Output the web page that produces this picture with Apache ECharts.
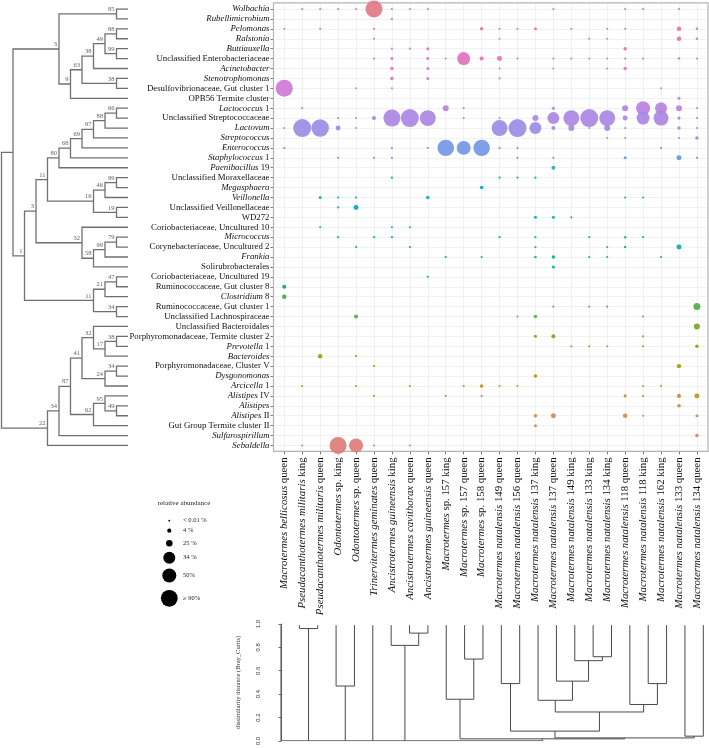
<!DOCTYPE html>
<html><head><meta charset="utf-8">
<script src="https://cdn.jsdelivr.net/npm/echarts@6/dist/echarts.min.js"></script>
<style>html,body{margin:0;padding:0;background:#fff}#c{width:709px;height:748px}</style>
</head><body><div id="c"></div>
<script>
// ---------------- data ----------------
const rowNames = ['Wolbachia','Rubellimicrobium','Pelomonas','Ralstonia','Buttiauxella','Unclassified Enterobacteriaceae','Acinetobacter','Stenotrophomonas','Desulfovibrionaceae, Gut cluster 1','OPB56 Termite cluster','Lactococcus 1','Unclassified Streptococcaceae','Lactovum','Streptococcus','Enterococcus','Staphylococcus 1','Paenibacillus 19','Unclassified Moraxellaceae','Megasphaera','Veillonella','Unclassified Veillonellaceae','WD272','Coriobacteriaceae, Uncultured 10','Micrococcus','Corynebacteriaceae, Uncultured 2','Frankia','Solirubrobacterales','Coriobacteriaceae, Uncultured 19','Ruminococcaceae, Gut cluster 8','Clostridium 8','Ruminococcaceae, Gut cluster 1','Unclassified Lachnospiraceae','Unclassified Bacteroidales','Porphyromonadaceae, Termite cluster 2','Prevotella 1','Bacteroides','Porphyromonadaceae, Cluster V','Dysgonomonas','Arcicella 1','Alistipes IV','Alistipes','Alistipes II','Gut Group Termite cluster II','Sulfurospirillum','Sebaldella'];
const italicGenera = ['Wolbachia','Rubellimicrobium','Pelomonas','Ralstonia','Buttiauxella','Acinetobacter','Stenotrophomonas','Lactococcus','Lactovum','Streptococcus','Enterococcus','Staphylococcus','Paenibacillus','Megasphaera','Veillonella','Micrococcus','Frankia','Clostridium','Prevotella','Bacteroides','Dysgonomonas','Arcicella','Alistipes','Sulfurospirillum','Sebaldella'];
const colNames = ['Macrotermes bellicosus queen','Pseudacanthotermes militaris king','Pseudacanthotermes militaris queen','Odontotermes sp. king','Odontotermes sp. queen','Trinervitermes geminates queen','Ancistrotermes guineensis king','Ancistrotermes cavithorax queen','Ancistrotermes guineensis queen','Macrotermes sp. 157 king','Macrotermes sp. 157 queen','Macrotermes sp. 158 queen','Macrotermes natalensis 149 queen','Macrotermes natalensis 156 queen','Macrotermes natalensis 137 king','Macrotermes natalensis 137 queen','Macrotermes natalensis 149 king','Macrotermes natalensis 133 king','Macrotermes natalensis 134 king','Macrotermes natalensis 118 queen','Macrotermes natalensis 118 king','Macrotermes natalensis 162 king','Macrotermes natalensis 133 queen','Macrotermes natalensis 134 queen'];

// relative abundance (%), per row: [column (1-based), value]; t = trace (< 0.01 %)
const t = 0.01;
const abundance = [
  [[2,t],[3,t],[4,t],[5,t],[6,88],[7,t],[8,t],[9,t],[16,t],[20,t],[21,t],[23,t]],
  [[7,t]],
  [[1,t],[3,t],[6,t],[12,0.9],[13,t],[14,t],[15,0.4],[17,t],[19,t],[20,t],[23,2.4],[24,0.1]],
  [[6,t],[13,t],[18,t],[19,t],[23,2.4],[24,0.1]],
  [[7,t],[8,t],[9,0.4],[20,0.9]],
  [[6,t],[7,0.4],[9,0.4],[10,t],[11,47],[12,1.6],[13,3.5],[14,t],[16,t],[17,t],[18,t],[19,t],[20,t],[21,t],[23,0.1],[24,t]],
  [[7,0.9],[9,0.4],[13,t],[16,t],[19,t],[20,0.9]],
  [[7,0.9],[9,0.4],[13,t]],
  [[1,88],[5,t],[7,t],[22,t]],
  [[23,0.4]],
  [[2,t],[10,6.3],[11,t],[16,0.4],[20,6.3],[21,56],[22,39],[23,6.3],[24,t]],
  [[4,t],[5,t],[6,1.6],[7,88],[8,100],[9,76],[11,t],[13,t],[15,6.3],[16,39],[17,76],[18,100],[19,76],[20,3.5],[21,47],[22,66],[23,0.4],[24,t]],
  [[1,t],[2,100],[3,95],[4,3.5],[5,t],[13,76],[14,100],[15,39],[16,1.6],[17,6.3],[18,t],[19,6.3],[20,t],[23,0.9],[24,t]],
  [[19,t],[20,t],[23,t],[24,0.9]],
  [[1,t],[7,t],[9,t],[10,82],[11,56],[12,82],[13,t],[14,t],[22,t]],
  [[4,t],[6,t],[7,t],[14,t],[16,t],[20,0.4],[23,3.5],[24,t]],
  [[16,1.6]],
  [[7,t],[13,t],[14,t],[15,t]],
  [[12,0.9]],
  [[3,0.4],[4,t],[5,t],[9,0.9],[20,t],[21,t]],
  [[4,t],[5,3.5]],
  [[15,0.4],[16,0.4],[17,t]],
  [[3,t],[7,t],[8,t]],
  [[4,t],[6,t],[7,t],[13,t],[15,t],[18,t],[20,0.1],[21,t]],
  [[5,t],[8,t],[15,t],[19,t],[20,0.1],[23,3.5]],
  [[10,t],[12,t],[15,0.1],[16,0.9],[18,t],[19,t],[22,t]],
  [[16,0.4]],
  [[9,t]],
  [[1,1.6]],
  [[1,2.4]],
  [[16,t],[18,t],[19,t],[24,9.8]],
  [[5,1.6],[14,t],[15,0.9],[21,t]],
  [[24,6.3]],
  [[15,0.4],[16,1.6],[21,t]],
  [[17,t],[18,t],[19,t],[21,t],[24,0.9]],
  [[3,2.4],[5,t]],
  [[6,t],[23,2.4]],
  [[15,0.9]],
  [[2,t],[5,t],[8,t],[11,t],[12,0.9],[13,t],[14,t],[21,t],[22,t]],
  [[6,t],[10,t],[12,t],[20,0.4],[21,t],[23,1.6],[24,3.5]],
  [[23,0.9]],
  [[15,0.9],[16,3.5],[20,2.4],[21,t],[24,0.4]],
  [[15,0.4]],
  [[24,0.9]],
  [[2,t],[4,88],[5,56],[6,t],[8,t]]
];

// taxa tree: [support label, child, child]; leaves = row index
const rowTree = ['',
  ['',
    ['3', ['85', 0, 1], ['9', ['63', ['38', ['49', ['88', 2, 3], ['99', 4, 5]], 6], ['38', 7, 8]], 9]],
    ['1',
      ['3',
        ['11',
          ['80', ['68', ['69', ['97', ['88', ['66', 10, 11], 12], 13], 14], 15], 16],
          ['16', ['46', ['99', 17, 18], 19], ['19', 20, 21]]
        ],
        ['32', 22, ['58', ['99', ['79', 23, 24], 25], 26]]
      ],
      ['11', ['21', ['47', 27, 28], 29], ['34', 30, 31]]
    ]
  ],
  ['22', ['34', ['87', ['41', ['32', 32, ['17', ['38', 33, 34], 35]], ['24', ['34', 36, 37], 38]], ['62', ['95', 39, ['49', 40, 41]], 42]], 43], 44]
];

// sample tree: [merge height, children...]; leaves = column index
const colLeafHeight = 0.99;
const colTree = [0.0,
  0,
  [0.961, 1, 2],
  [0.469, 3, 4],
  5,
  [0.817, 6, [0.922, 7, 8]],
  [0.017,
    [0.356, 9, [0.70, 10, 11]],
    [0.025,
      [0.083, [0.49, 12, 13],
        [0.247, [0.347, 14, [0.511, 15, [0.686, 16, [0.72, 17, 18]]]], [0.311, 19, [0.49, 20, 21]]]],
      [0.04, 22, 23]
    ]
  ]
];
const distAxisName = 'dissimilarity distance (Bray_Curtis)';
const legendTitle = 'relative abundance';
const legendLabels = ['< 0.01 %', '4 %', '25 %', '34 %', '50%', '\u2265 90%'];

// ---------------- helpers ----------------
function hcl(h, c, l) {
  const hr = h * Math.PI / 180, u = c * Math.cos(hr), v = c * Math.sin(hr);
  const Xn = 95.047, Yn = 100, Zn = 108.883;
  const den = Xn + 15 * Yn + 3 * Zn, un = 4 * Xn / den, vn = 9 * Yn / den;
  const Y = Yn * Math.pow((l + 16) / 116, 3);
  const up = u / (13 * l) + un, vp = v / (13 * l) + vn;
  const X = 9 * Y * up / (4 * vp), Z = -X / 3 - 5 * Y + 3 * Y / vp;
  const x = X / 100, y = Y / 100, z = Z / 100;
  const r = 3.240479 * x - 1.537150 * y - 0.498535 * z;
  const g = -0.969256 * x + 1.875992 * y + 0.041556 * z;
  const b = 0.055648 * x - 0.204043 * y + 1.057311 * z;
  const gm = q => { q = q <= 0.0031308 ? 12.92 * q : 1.055 * Math.pow(q, 1 / 2.4) - 0.055; return Math.round(255 * Math.max(0, Math.min(1, q))); };
  return 'rgb(' + gm(r) + ',' + gm(g) + ',' + gm(b) + ')';
}
const nRows = rowNames.length;
const rowColors = rowNames.map((_, r) => hcl(15 + (nRows - 1 - r) * (352 / (nRows - 1)), 72, 63));

const bubbleData = [];
abundance.forEach((row, r) => row.forEach(([c, v]) => bubbleData.push([c - 1, r, v])));
const sizeOf = v => 2 + 16 * Math.sqrt(v / 100);

// row tree layout (x = node level, y = row)
const rowSegs = [], rowLabels = [];
function layRow(node) {
  if (typeof node === 'number') return {x: 0, y: node};
  const kids = node.slice(1).map(layRow);
  const a = kids[0], b = kids[kids.length - 1];
  const d = 1 + Math.max(...kids.map(k => k.x));
  const y = (a.y + b.y) / 2;
  rowSegs.push([[a.x, a.y], [d, a.y], [d, b.y], [b.x, b.y]]);
  if (node[0]) rowLabels.push([d, y, node[0]]);
  return {x: d, y: y};
}
layRow(rowTree);

// column tree layout (x = column, y = height)
const colSegs = [];
function layCol(node) {
  if (typeof node === 'number') return {x: node, h: colLeafHeight};
  const h = node[0];
  const kids = node.slice(1).map(layCol);
  const a = kids[0], b = kids[kids.length - 1];
  colSegs.push([[a.x, a.h], [a.x, h], [b.x, h], [b.x, b.h]]);
  for (let i = 1; i < kids.length - 1; i++) colSegs.push([[kids[i].x, kids[i].h], [kids[i].x, h]]);
  return {x: (a.x + b.x) / 2, h: h};
}
layCol(colTree);

const SERIF = 'Liberation Serif';
function richRow(name) {
  const sp = name.indexOf(' ');
  const first = sp < 0 ? name : name.slice(0, sp);
  if (italicGenera.indexOf(first) >= 0) return sp < 0 ? '{i|' + first + '}' : '{i|' + first + '}{n|' + name.slice(sp) + '}';
  return '{n|' + name + '}';
}
function richCol(name) {
  const w = name.split(' ');
  let k = 0;
  while (k < w.length && !/^(sp\.|king|queen|\d+)$/.test(w[k])) k++;
  return '{i|' + w.slice(0, k).join(' ') + '}{n| ' + w.slice(k).join(' ') + '}';
}

// legend graphics
const legY = [520.7, 530.7, 543.3, 557.7, 575.5, 598.3];
const legR = [0.9, 2.1, 3.3, 6, 7, 8.4];
const graphics = [
  {type: 'rect', z: 1, shape: {x: 273.5, y: 2.8, width: 434.5, height: 448.6}, style: {fill: 'none', stroke: '#b3b3b3', lineWidth: 1.2}},
  {type: 'text', x: 184, y: 503, style: {text: legendTitle, font: '7px "Liberation Serif"', fill: '#222', textAlign: 'center', textVerticalAlign: 'middle'}}
];
legendLabels.forEach((lab, i) => {
  graphics.push({type: 'circle', shape: {cx: 169.3, cy: legY[i], r: legR[i]}, style: {fill: '#000'}});
  graphics.push({type: 'text', x: 183, y: legY[i], style: {text: lab, font: '6.5px "Liberation Serif"', fill: '#222', textAlign: 'left', textVerticalAlign: 'middle'}});
});

const chart = echarts.init(document.getElementById('c'));
chart.setOption({
  animation: false,
  backgroundColor: '#fff',
  graphic: graphics,
  grid: [
    {left: 275.3, top: 4.04, width: 430.6, height: 446.4},
    {left: 1.5, top: 9, width: 126.5, height: 436.5},
    {left: 281, top: 624, width: 422.3, height: 120}
  ],
  xAxis: [
    {gridIndex: 0, type: 'category', data: colNames, boundaryGap: true, position: 'bottom', offset: 1,
     axisLine: {show: false},
     axisTick: {show: true, alignWithLabel: true, interval: 0, length: 3, lineStyle: {color: '#555', width: 0.8}},
     splitLine: {show: true, alignWithLabel: true, interval: 0, lineStyle: {color: '#ebebeb', width: 0.7}},
     axisLabel: {interval: 0, rotate: 90, margin: 6, formatter: v => richCol(v),
       rich: {i: {fontFamily: SERIF, fontStyle: 'italic', fontSize: 10.8, color: '#111'}, n: {fontFamily: SERIF, fontSize: 10.8, color: '#111'}}}},
    {gridIndex: 1, type: 'value', min: 0, max: 11, inverse: true, show: false},
    {gridIndex: 2, type: 'value', min: 0, max: 23, show: false}
  ],
  yAxis: [
    {gridIndex: 0, type: 'category', data: rowNames, inverse: true, boundaryGap: true, offset: 1.8,
     axisLine: {show: false},
     axisTick: {show: true, alignWithLabel: true, interval: 0, length: 3, lineStyle: {color: '#555', width: 0.8}},
     splitLine: {show: true, alignWithLabel: true, interval: 0, lineStyle: {color: '#ebebeb', width: 0.7}},
     axisLabel: {interval: 0, margin: 4, formatter: v => richRow(v),
       rich: {i: {fontFamily: SERIF, fontStyle: 'italic', fontSize: 8.8, color: '#111'}, n: {fontFamily: SERIF, fontSize: 8.8, color: '#111'}}}},
    {gridIndex: 1, type: 'value', min: 0, max: 44, inverse: true, show: false},
    {gridIndex: 2, type: 'value', min: 0, max: 1, interval: 0.2, offset: 17,
     axisLine: {show: true, lineStyle: {color: '#444', width: 0.8}},
     axisTick: {show: true, length: 2.5, lineStyle: {color: '#444', width: 0.8}},
     splitLine: {show: false},
     axisLabel: {rotate: 90, margin: 3, fontSize: 6, fontFamily: 'Liberation Sans', color: '#333', formatter: v => v.toFixed(1)},
     name: distAxisName, nameLocation: 'middle', nameGap: 22, nameRotate: 90,
     nameTextStyle: {fontSize: 6.5, fontFamily: SERIF, color: '#333'}}
  ],
  series: [
    {type: 'scatter', xAxisIndex: 0, yAxisIndex: 0, clip: false, data: bubbleData,
     symbolSize: v => sizeOf(v[2]),
     itemStyle: {opacity: 0.92, color: p => rowColors[p.data[1]]}, z: 3},
    {type: 'lines', coordinateSystem: 'cartesian2d', xAxisIndex: 1, yAxisIndex: 1, polyline: true, silent: true,
     data: rowSegs.map(c => ({coords: c})), lineStyle: {color: '#707070', width: 1.3, opacity: 1}},
    {type: 'scatter', xAxisIndex: 1, yAxisIndex: 1, clip: false, silent: true, symbolSize: 1,
     itemStyle: {color: 'rgba(0,0,0,0)'}, data: rowLabels, z: 5,
     label: {show: true, position: 'left', distance: 1.5, offset: [0, -4.5], formatter: p => p.data[2],
       fontSize: 6.5, fontFamily: SERIF, color: '#333'}},
    {type: 'lines', coordinateSystem: 'cartesian2d', xAxisIndex: 2, yAxisIndex: 2, polyline: true, silent: true,
     data: colSegs.map(c => ({coords: c})), lineStyle: {color: '#4a4a4a', width: 1, opacity: 1}}
  ]
});
</script></body></html>
